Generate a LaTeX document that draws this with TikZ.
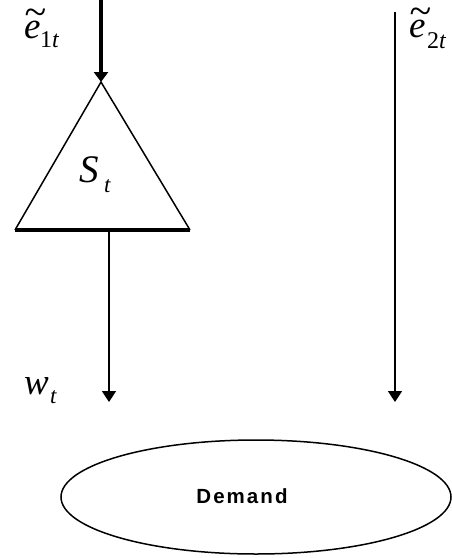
\documentclass[tikz,border=0pt]{standalone}
\usepackage{fontspec}
\setmainfont{Liberation Serif}
\newfontfamily\demandfont{Liberation Sans}[LetterSpace=10]
\usetikzlibrary{arrows.meta,shapes.geometric}
\newcommand{\bigtil}{\rlap{\raisebox{13pt}{\fontsize{40}{40}\selectfont\symbol{"7E}}}}
\tikzset{
  lbl/.style={inner sep=0pt, anchor=base west},
  mainsym/.style={lbl, font=\fontsize{37}{40}\selectfont\itshape},
  subsym/.style={lbl, font=\fontsize{24}{26}\selectfont},
  flow/.style={line width=1.6pt, -{Triangle[width=14pt,length=11pt]}},
  thickflow/.style={line width=4pt, -{Triangle[width=14pt,length=10pt]}},
}
\begin{document}
\begin{tikzpicture}[x=1pt,y=-1pt]
\useasboundingbox (0,0) rectangle (451,558);
% triangle
\coordinate (apex) at (101,82);
\coordinate (bl) at (15,230);
\coordinate (br) at (190,230);
\coordinate (stemtop) at (109,230);
\coordinate (topin) at (101,0);
\coordinate (rtop) at (395,12);
\coordinate (wend) at (109,402);
\coordinate (rend) at (395,402);
\draw[line width=1.5pt, line join=miter] (bl) -- (apex) -- (br);
\draw[line width=4pt] (bl) -- (br);
\draw[thickflow] (topin) -- (apex);
\draw[flow] (stemtop) -- (wend);
\draw[flow] (rtop) -- (rend);
% labels
\node[mainsym] (e1) at (24,38) {\bigtil e};
\node[subsym] (e1s) at (40,47) {1\textit{t}};
\node[mainsym] (e2) at (409,37) {\bigtil e};
\node[subsym] (e2s) at (427,48) {2\textit{t}};
\node[lbl, font=\fontsize{39}{44}\selectfont\itshape] (S) at (79,182) {S};
\node[subsym, font=\fontsize{23}{26}\selectfont\itshape] (Ss) at (104,192) {t};
\node[mainsym] (w) at (24,394) {w};
\node[subsym, font=\fontsize{23}{26}\selectfont\itshape] (ws) at (50,403) {t};
% demand
\node[ellipse, draw, line width=1.5pt, minimum width=390pt, minimum height=114pt, inner sep=0pt] (dem) at (256,497) {};
\node[font=\demandfont\bfseries\fontsize{20.5}{22}\selectfont, inner sep=0pt] (demt) at (242,496) {Demand};
\end{tikzpicture}
\end{document}
